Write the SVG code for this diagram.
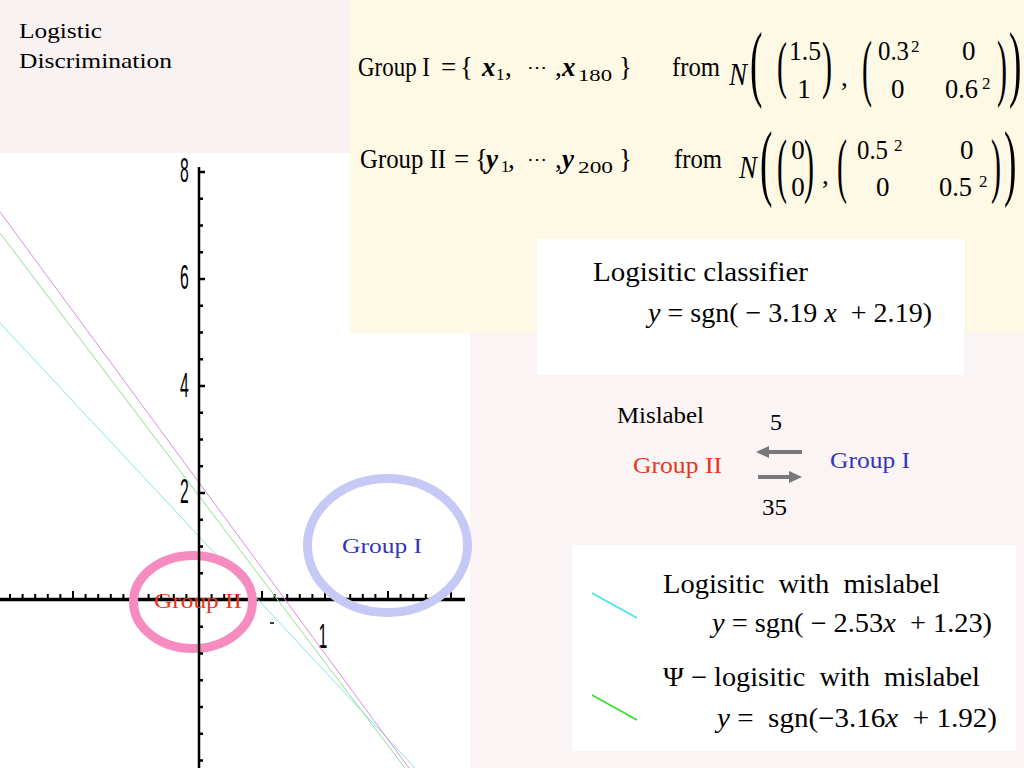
<svg xmlns="http://www.w3.org/2000/svg" width="1024" height="768" viewBox="0 0 1024 768">
<defs>
<style>
text{font-family:"Liberation Serif","Times New Roman",serif;fill:#000;white-space:pre}
.t22{font-size:22px}
.t24{font-size:24px}
.e{font-size:27px}
.m{font-size:27px}
.sub{font-size:17px}
.sup{font-size:17px}
.it{font-style:italic}
.bi{font-style:italic;font-weight:bold}
.dots{font-family:"DejaVu Serif",serif;font-size:20px}
.ax{font-family:"Liberation Sans",Arial,sans-serif;font-size:35px}
.red{fill:#e8361c}
.blue{fill:#3535bb}
.arrow{stroke:#787878;stroke-width:4;fill:none}
</style>
<marker id="ah" viewBox="0 0 13 12" markerWidth="13" markerHeight="12" refX="1" refY="6" orient="auto" markerUnits="userSpaceOnUse">
<path d="M0,0 L13,6 L0,12 z" fill="#787878"/>
</marker>
</defs>

<!-- backgrounds -->
<rect x="0" y="0" width="1024" height="768" fill="#faf4f4"/>
<rect x="0" y="0" width="350" height="153" fill="#f9f2f2"/>
<rect x="0" y="153" width="470" height="615" fill="#ffffff"/>
<rect x="350" y="0" width="674" height="333" fill="#fdf9e4"/>

<g id="title">
<text class="t22" x="19" y="38" textLength="83" lengthAdjust="spacingAndGlyphs">Logistic</text>
<text class="t22" x="19" y="68" textLength="153" lengthAdjust="spacingAndGlyphs">Discrimination</text>
</g>

<g id="group-definitions">
<!-- line 1 -->
<text class="e" x="358" y="76" textLength="72" lengthAdjust="spacingAndGlyphs">Group I</text>
<text class="e" x="441" y="76">=</text>
<text class="e" x="460" y="76">{</text>
<text class="e bi" x="482" y="76">x</text>
<text class="sub" x="496" y="80">1</text>
<text class="e" x="505" y="76">,</text>
<text class="dots" x="527" y="74" textLength="20" lengthAdjust="spacingAndGlyphs">⋯</text>
<text class="e" x="555" y="76">,</text>
<text class="e bi" x="562" y="76">x</text>
<text class="sub" x="578" y="81" textLength="34" lengthAdjust="spacingAndGlyphs">180</text>
<text class="e" x="619" y="76">}</text>
<text class="e" x="672" y="76" textLength="48" lengthAdjust="spacingAndGlyphs">from</text>

<text class="it" x="729" y="85" style="font-size:32px" textLength="18" lengthAdjust="spacingAndGlyphs">N</text>
<text transform="translate(750,91.4) scale(1.1,2.49)" style="font-size:34px">(</text>
<text transform="translate(777,86) scale(1,2.12)" style="font-size:30px">(</text>
<text class="m" x="789" y="60" textLength="32" lengthAdjust="spacingAndGlyphs">1.5</text>
<text class="m" x="804" y="98" text-anchor="middle">1</text>
<text transform="translate(822,86) scale(1,2.12)" style="font-size:30px">)</text>
<text class="m" x="841" y="86">,</text>
<text transform="translate(862,91.5) scale(1,2.49)" style="font-size:30px">(</text>
<text class="m" x="878" y="60" textLength="31" lengthAdjust="spacingAndGlyphs">0.3</text>
<text class="sup" x="911" y="52">2</text>
<text class="m" x="962" y="60">0</text>
<text class="m" x="891" y="98">0</text>
<text class="m" x="945" y="98" textLength="33" lengthAdjust="spacingAndGlyphs">0.6</text>
<text class="sup" x="982" y="89">2</text>
<text transform="translate(997,91.5) scale(1,2.49)" style="font-size:30px">)</text>
<text transform="translate(1009,91.4) scale(1.1,2.49)" style="font-size:34px">)</text>

<!-- line 2 -->
<text class="e" x="360" y="168" textLength="86" lengthAdjust="spacingAndGlyphs">Group II</text>
<text class="e" x="454" y="168">=</text>
<text class="e" x="475" y="168">{</text>
<text class="e bi" x="486" y="168">y</text>
<text class="sub" x="501" y="172">1</text>
<text class="e" x="508" y="168">,</text>
<text class="dots" x="527" y="166" textLength="20" lengthAdjust="spacingAndGlyphs">⋯</text>
<text class="e" x="555" y="168">,</text>
<text class="e bi" x="562" y="168">y</text>
<text class="sub" x="578" y="173" textLength="35" lengthAdjust="spacingAndGlyphs">200</text>
<text class="e" x="619" y="168">}</text>
<text class="e" x="674" y="168" textLength="48" lengthAdjust="spacingAndGlyphs">from</text>

<text class="it" x="739" y="178" style="font-size:32px" textLength="18" lengthAdjust="spacingAndGlyphs">N</text>
<text transform="translate(760,189.7) scale(1.1,2.46)" style="font-size:34px">(</text>
<text transform="translate(777,189.3) scale(1,2.38)" style="font-size:30px">(</text>
<text class="m" x="798" y="159" text-anchor="middle">0</text>
<text class="m" x="798" y="196" text-anchor="middle">0</text>
<text transform="translate(804,189.3) scale(1,2.38)" style="font-size:30px">)</text>
<text class="m" x="822" y="184">,</text>
<text transform="translate(837,189.3) scale(1,2.38)" style="font-size:30px">(</text>
<text class="m" x="857" y="159" textLength="31" lengthAdjust="spacingAndGlyphs">0.5</text>
<text class="sup" x="894" y="151">2</text>
<text class="m" x="960" y="159">0</text>
<text class="m" x="876" y="196">0</text>
<text class="m" x="939" y="196" textLength="33" lengthAdjust="spacingAndGlyphs">0.5</text>
<text class="sup" x="979" y="187">2</text>
<text transform="translate(991,189.3) scale(1,2.38)" style="font-size:30px">)</text>
<text transform="translate(1004,189.7) scale(1.1,2.46)" style="font-size:34px">)</text>
</g>

<g id="plot">
<!-- x axis -->
<line x1="0" y1="599.5" x2="465" y2="599.5" stroke="#000" stroke-width="3.5"/>
<path stroke="#000" stroke-width="2" fill="none" d="M10,598v-4 M22.6,598v-4 M35.2,598v-4 M47.8,598v-4 M60.4,598v-4 M73,598v-7 M85.6,598v-4 M98.2,598v-4 M110.8,598v-4 M123.4,598v-4 M136,598v-7 M148.6,598v-4 M161.2,598v-4 M173.8,598v-4 M186.4,598v-4 M211.6,598v-4 M224.2,598v-4 M236.8,598v-4 M249.4,598v-4 M262,598v-7 M274.6,598v-4 M287.2,598v-4 M299.8,598v-4 M312.4,598v-4 M325,598v-7 M337.6,598v-4 M350.2,598v-4 M362.8,598v-4 M375.4,598v-4 M388,598v-7 M400.6,598v-4 M413.2,598v-4 M425.8,598v-4 M438.4,598v-4 M451,598v-7"/>
<line x1="270" y1="623" x2="274" y2="623" stroke="#000" stroke-width="1.5"/>
<text class="ax" transform="translate(323,648) scale(0.45,1)" text-anchor="middle">1</text>

<!-- classifier lines -->
<line x1="0" y1="323" x2="415" y2="768" stroke="#88e4e6" stroke-width="1"/>
<line x1="0" y1="233" x2="405" y2="768" stroke="#8ee08e" stroke-width="1"/>
<line x1="0" y1="212" x2="409" y2="768" stroke="#dd8ae0" stroke-width="1"/>

<!-- group ellipses -->
<ellipse cx="193" cy="602" rx="59.5" ry="46.5" fill="none" stroke="#f68bc0" stroke-width="9"/>
<ellipse cx="387.5" cy="545.5" rx="80" ry="67" fill="none" stroke="#c6c8f6" stroke-width="9"/>

<!-- y axis -->
<line x1="199" y1="167" x2="199" y2="768" stroke="#000" stroke-width="2.5"/>
<path stroke="#000" stroke-width="2.5" fill="none" d="M199,172h6 M199,198.75h4 M199,225.5h4 M199,252.25h4 M199,279h6 M199,305.75h4 M199,332.5h4 M199,359.25h4 M199,386h6 M199,412.75h4 M199,439.5h4 M199,466.25h4 M199,493h6 M199,519.75h4 M199,546.5h4 M199,573.25h4 M199,626.75h4 M199,653.5h4 M199,680.25h4 M199,707h4 M199,733.75h4 M199,760.5h4"/>
<text class="ax" transform="translate(184.5,182) scale(0.45,1)" text-anchor="middle">8</text>
<text class="ax" transform="translate(184.5,289) scale(0.45,1)" text-anchor="middle">6</text>
<text class="ax" transform="translate(184.5,397) scale(0.45,1)" text-anchor="middle">4</text>
<text class="ax" transform="translate(184.5,503) scale(0.45,1)" text-anchor="middle">2</text>

<text class="t22 blue" x="342" y="553" textLength="80" lengthAdjust="spacingAndGlyphs">Group I</text>
<text class="t22 red" x="154" y="608" textLength="88" lengthAdjust="spacingAndGlyphs">Group II</text>
</g>

<g id="classifier">
<rect x="537" y="239" width="427" height="136" fill="#ffffff"/>
<text x="593" y="281" style="font-size:27px" textLength="215" lengthAdjust="spacingAndGlyphs">Logisitic classifier</text>
<text x="648" y="322" style="font-size:28px" textLength="284" lengthAdjust="spacingAndGlyphs"><tspan class="it">y</tspan> = sgn( − 3.19<tspan class="it"> x</tspan>  + 2.19)</text>
</g>

<g id="mislabel">
<text class="t24" x="617" y="423" textLength="87" lengthAdjust="spacingAndGlyphs">Mislabel</text>
<text class="t24" x="770" y="430">5</text>
<text class="t24 red" x="633" y="473" textLength="89" lengthAdjust="spacingAndGlyphs">Group II</text>
<text class="t24 blue" x="830" y="468" textLength="80" lengthAdjust="spacingAndGlyphs">Group I</text>
<text class="t24" x="762" y="515" textLength="25" lengthAdjust="spacingAndGlyphs">35</text>
</g>

<g id="connectors">
<line class="arrow" x1="802" y1="452" x2="768" y2="452" marker-end="url(#ah)"/>
<line class="arrow" x1="758" y1="477" x2="790" y2="477" marker-end="url(#ah)"/>
</g>

<g id="legend">
<rect x="572" y="545" width="444" height="206" fill="#ffffff"/>
<line x1="592" y1="593" x2="637" y2="618" stroke="#3ee4ee" stroke-width="1.5"/>
<line x1="592" y1="695" x2="637" y2="720" stroke="#2ee02e" stroke-width="1.5"/>
<text x="663" y="593" style="font-size:27px" textLength="277" lengthAdjust="spacingAndGlyphs">Logisitic  with  mislabel</text>
<text x="712" y="632" style="font-size:27px" textLength="280" lengthAdjust="spacingAndGlyphs"><tspan class="it">y</tspan> = sgn( − 2.53<tspan class="it">x</tspan>  + 1.23)</text>
<text x="663" y="686" style="font-size:27px" textLength="317" lengthAdjust="spacingAndGlyphs">Ψ − logisitic  with  mislabel</text>
<text x="717" y="727" style="font-size:27px" textLength="280" lengthAdjust="spacingAndGlyphs"><tspan class="it">y</tspan> =  sgn(−3.16<tspan class="it">x</tspan>  + 1.92)</text>
</g>
</svg>
